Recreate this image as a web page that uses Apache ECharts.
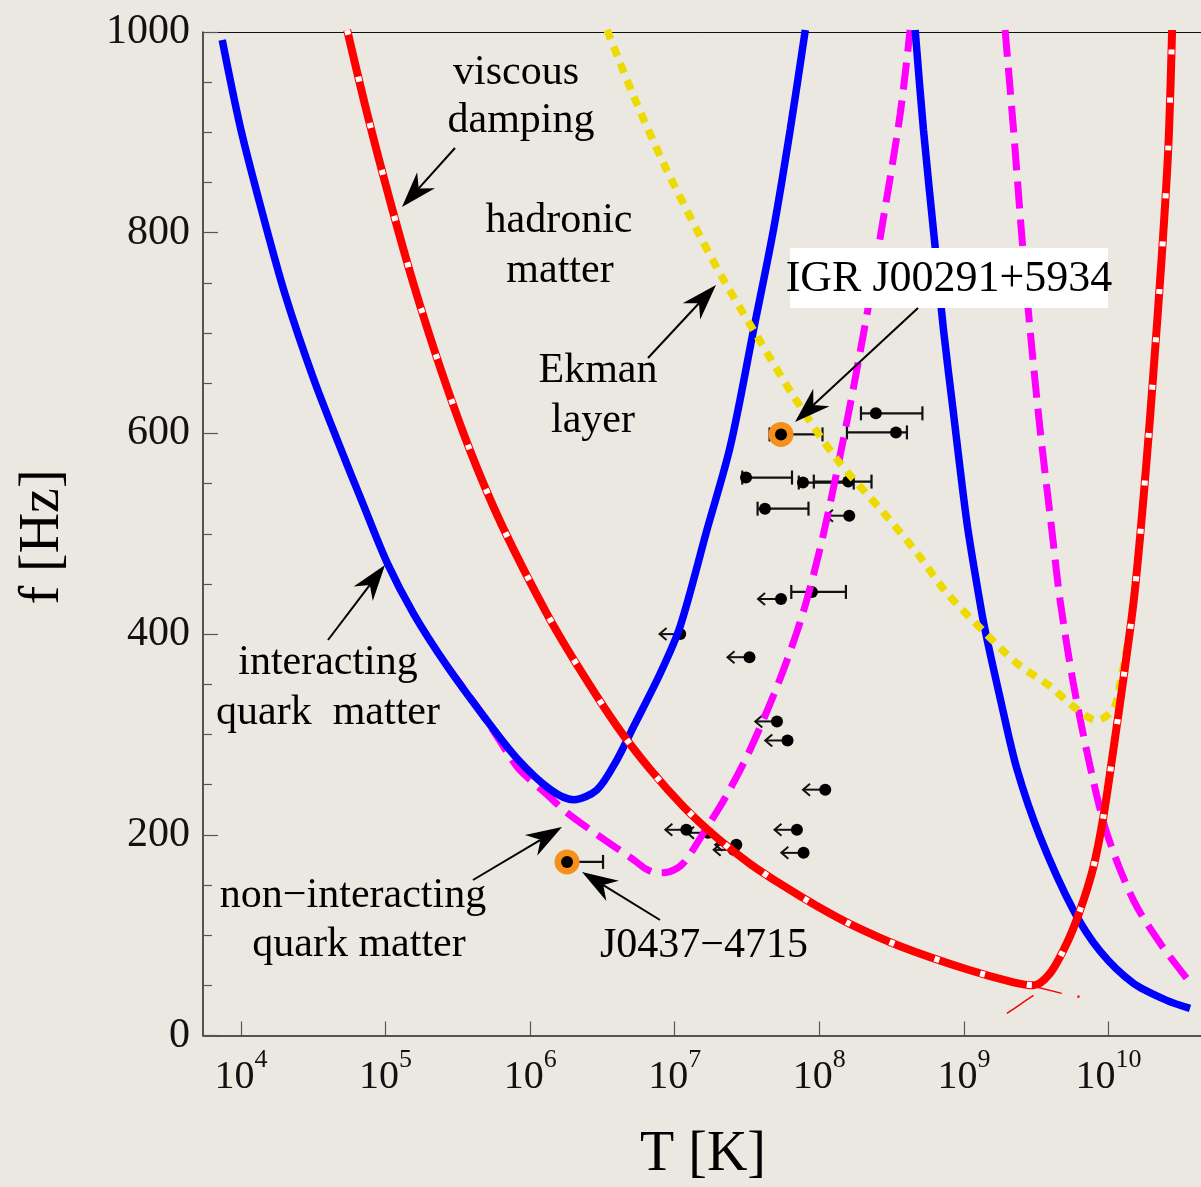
<!DOCTYPE html>
<html>
<head>
<meta charset="utf-8">
<script src="https://cdn.jsdelivr.net/npm/echarts@6/dist/echarts.min.js"></script>
<style>
  html, body { margin: 0; background: #eae8e1; }
  #chart { width: 1201px; height: 1187px; }
</style>
</head>
<body>
<div id="chart"></div>
<script>
// x values are log10(T / K), y values are f in Hz
const decades = [4, 5, 6, 7, 8, 9, 10];
const freqTicks = [0, 200, 400, 600, 800, 1000];

// interacting quark matter (blue, solid)
const interactingLow = [
  [3.870, 992], [3.997, 904], [4.147, 820], [4.308, 737], [4.503, 654], [4.711, 577],
  [4.826, 536], [5.011, 471], [5.195, 420], [5.426, 368], [5.679, 318], [5.909, 276],
  [6.140, 245], [6.301, 235], [6.463, 245], [6.601, 275], [6.716, 308], [6.900, 361],
  [7.038, 408], [7.223, 504], [7.384, 587], [7.545, 703], [7.683, 803], [7.799, 903],
  [7.903, 1002]
];
const interactingHigh = [
  [8.663, 1002], [8.720, 903], [8.801, 786], [8.859, 703], [8.928, 620], [9.020, 512],
  [9.101, 440], [9.145, 405], [9.251, 336], [9.366, 266], [9.527, 198], [9.757, 125],
  [9.942, 84], [10.172, 52], [10.403, 35], [10.564, 27]
];

// non-interacting quark matter (magenta, dashed)
const freeLow = [
  [5.426, 368], [5.679, 318], [5.865, 277], [5.932, 264], [6.117, 240], [6.255, 222],
  [6.485, 198], [6.716, 175], [6.800, 166], [6.877, 162], [6.960, 163], [7.061, 172],
  [7.199, 202], [7.361, 240], [7.522, 285], [7.730, 356], [7.891, 423], [8.029, 500],
  [8.191, 612], [8.329, 718], [8.444, 815], [8.559, 918], [8.628, 1002]
];
const freeHigh = [
  [9.285, 1002], [9.343, 903], [9.401, 796], [9.458, 703], [9.527, 604], [9.608, 504],
  [9.665, 434], [9.757, 351], [9.873, 268], [9.988, 202], [10.172, 135], [10.357, 92],
  [10.541, 57]
];

// hadronic matter, viscous damping (red)
const hadronic = [
  [4.734, 1002], [4.872, 919], [5.034, 830], [5.195, 748], [5.379, 665], [5.587, 582],
  [5.806, 508], [6.117, 420], [6.347, 364], [6.601, 308], [6.831, 265], [7.061, 228],
  [7.292, 197], [7.522, 171], [7.753, 149], [7.983, 129], [8.214, 111], [8.559, 89],
  [9.020, 66], [9.343, 53], [9.481, 50], [9.596, 62], [9.712, 92], [9.804, 125],
  [9.896, 168], [9.965, 218], [10.034, 285], [10.103, 355], [10.172, 430], [10.218, 496],
  [10.265, 575], [10.308, 655], [10.368, 775], [10.414, 885], [10.440, 1002]
];
const hadronicStrayA = [[9.297, 22], [9.390, 31], [9.481, 40]];
const hadronicStrayB = [[9.481, 49], [9.677, 42]];
const hadronicStrayC = [[9.785, 39], [9.800, 38.5]];

// Ekman layer (yellow, dotted)
const ekman = [
  [6.532, 1002], [6.716, 936], [6.923, 869], [7.177, 796], [7.338, 753], [7.569, 697],
  [7.822, 637], [8.122, 574], [8.444, 521], [8.675, 481], [8.882, 441], [9.135, 403],
  [9.366, 371], [9.596, 348], [9.757, 328], [9.919, 314], [10.034, 325], [10.080, 351],
  [10.138, 394]
];

// sources with T range: [logT, f, logT low, logT high]
const sourcesRange = [
  [8.391, 620, 8.288, 8.713],
  [8.530, 601, 8.191, 8.606],
  [7.735, 599, 7.656, 8.022],
  [7.493, 556, 7.467, 7.811],
  [7.887, 551, 7.858, 8.238],
  [8.200, 552, 7.962, 8.361],
  [7.624, 525, 7.573, 7.925],
  [7.949, 442, 7.806, 8.184],
  [6.255, 173, 6.250, 6.504]
];
// sources with upper T limit: [logT, f, arrow tip logT]
const sourcesLimit = [
  [8.207, 518, 8.046],
  [7.735, 435, 7.576],
  [7.038, 400, 6.895],
  [7.517, 377, 7.365],
  [7.707, 313, 7.557],
  [7.780, 294, 7.626],
  [8.041, 245, 7.887],
  [7.845, 205, 7.690],
  [7.891, 182, 7.737],
  [7.080, 205, 6.935],
  [7.230, 202, 7.085],
  [7.426, 190, 7.280],
  [7.407, 185, 7.269]
];
// IGR J00291+5934, J0437-4715
const highlighted = [[7.735, 599], [6.255, 173]];

const serif = '"Liberation Serif", "Times New Roman", serif';
const ink = '#111';

function curve(data, color, width, dash) {
  return {
    type: 'line',
    data: data,
    smooth: 0.3,
    showSymbol: false,
    silent: true,
    lineStyle: { color: color, width: width, type: dash || 'solid' }
  };
}

function rangeItem(params, api) {
  const y = api.value(1);
  const lo = api.coord([api.value(2), y]);
  const hi = api.coord([api.value(3), y]);
  const st = { stroke: ink, lineWidth: 2.2 };
  return {
    type: 'group',
    children: [
      { type: 'line', shape: { x1: lo[0], y1: lo[1], x2: hi[0], y2: hi[1] }, style: st },
      { type: 'line', shape: { x1: lo[0], y1: lo[1] - 7, x2: lo[0], y2: lo[1] + 7 }, style: st },
      { type: 'line', shape: { x1: hi[0], y1: hi[1] - 7, x2: hi[0], y2: hi[1] + 7 }, style: st }
    ]
  };
}

function limitItem(params, api) {
  const y = api.value(1);
  const p = api.coord([api.value(0), y]);
  const t = api.coord([api.value(2), y]);
  const st = { stroke: ink, lineWidth: 2, fill: null };
  return {
    type: 'group',
    children: [
      { type: 'line', shape: { x1: p[0], y1: p[1], x2: t[0], y2: t[1] }, style: st },
      { type: 'polyline', shape: { points: [[t[0] + 7, t[1] - 6], [t[0], t[1]], [t[0] + 7, t[1] + 6]] }, style: st }
    ]
  };
}

// annotation arrow with a notched head
function arrow(x1, y1, x2, y2) {
  const L = Math.hypot(x2 - x1, y2 - y1);
  const ux = (x2 - x1) / L, uy = (y2 - y1) / L;
  const nx = -uy, ny = ux;
  const hl = 36, hw = 12, notch = 25;
  const bx = x2 - ux * hl, by = y2 - uy * hl;
  const mx = x2 - ux * notch, my = y2 - uy * notch;
  return [
    { type: 'line', z: 100, shape: { x1: x1, y1: y1, x2: mx, y2: my }, style: { stroke: '#000', lineWidth: 2 } },
    { type: 'polygon', z: 100, shape: { points: [[x2, y2], [bx + nx * hw, by + ny * hw], [mx, my], [bx - nx * hw, by - ny * hw]] }, style: { fill: '#000' } }
  ];
}

function label(text, x, y, size) {
  return {
    type: 'text', x: x, y: y, z: 100,
    style: { text: text, fontFamily: serif, fontSize: size || 42, fill: '#000', align: 'center', verticalAlign: 'middle' }
  };
}

const xMin = 3.737, xMax = 10.64;

const option = {
  backgroundColor: '#eae8e1',
  animation: false,
  grid: { left: 203, top: 32, right: 0, bottom: 151.5, outerBoundsMode: 'none' },
  xAxis: [{
    type: 'value', min: xMin, max: xMax, position: 'bottom',
    axisLine: { show: true, onZero: false, lineStyle: { color: '#222', width: 1.5 } },
    axisTick: { show: true, inside: true, length: 14, customValues: decades, lineStyle: { color: '#555', width: 1.2 } },
    axisLabel: {
      customValues: decades, margin: 12,
      formatter: v => '{b|10}{s|' + Math.round(v) + '}',
      rich: {
        b: { fontFamily: serif, fontSize: 40, color: ink, verticalAlign: 'bottom' },
        s: { fontFamily: serif, fontSize: 26, color: ink, verticalAlign: 'bottom', padding: [0, 0, 24, 0] }
      }
    },
    splitLine: { show: false }
  }, {
    type: 'value', min: xMin, max: xMax, position: 'top',
    axisLine: { show: true, onZero: false, lineStyle: { color: '#111', width: 1 } },
    axisTick: { show: false }, axisLabel: { show: false }, splitLine: { show: false }
  }],
  yAxis: {
    type: 'value', min: 0, max: 1000, interval: 200,
    axisLine: { show: true, lineStyle: { color: '#222', width: 1.5 } },
    axisTick: { show: true, inside: true, length: 15, lineStyle: { color: '#555', width: 1.2 } },
    minorTick: { show: true, splitNumber: 4, length: 9, lineStyle: { color: '#555', width: 1.2 } },
    axisLabel: {
      customValues: freqTicks, margin: 13,
      formatter: v => String(v),
      fontFamily: serif, fontSize: 42, color: ink
    },
    splitLine: { show: false }
  },
  series: [
    curve(freeLow, '#ff00ff', 7, [27, 11]),
    curve(freeHigh, '#ff00ff', 7, [27, 11]),
    curve(interactingLow, '#0000ff', 7.5),
    curve(interactingHigh, '#0000ff', 7.5),
    curve(ekman, '#ecda00', 7.5, [10, 8]),
    curve(hadronic, '#ff0000', 8),
    curve(hadronic, '#ffffff', 6, [5, 43]),
    curve(hadronicStrayA, '#ff0000', 1.5),
    curve(hadronicStrayB, '#ff0000', 1.5),
    curve(hadronicStrayC, '#ff0000', 2.5),
    {
      type: 'scatter', data: highlighted, symbolSize: 25, silent: true,
      itemStyle: { color: '#f7901a', opacity: 1 }
    },
    { type: 'custom', data: sourcesRange, renderItem: rangeItem, silent: true },
    { type: 'custom', data: sourcesLimit, renderItem: limitItem, silent: true },
    {
      type: 'scatter', symbolSize: 12, silent: true,
      data: sourcesRange.map(d => [d[0], d[1]]).concat(sourcesLimit.map(d => [d[0], d[1]])),
      itemStyle: { color: '#000', opacity: 1 }
    }
  ],
  graphic: [
    { type: 'text', x: 43, y: 537, z: 100, rotation: Math.PI / 2,
      style: { text: 'f [Hz]', fontFamily: serif, fontSize: 56, fill: '#000', align: 'center', verticalAlign: 'middle' } },
    label('T [K]', 703, 1155, 56),
    label('viscous', 516, 73),
    label('damping', 521, 121),
    label('hadronic', 559, 221),
    label('matter', 560, 271),
    label('Ekman', 598, 371),
    label('layer', 593, 421),
    label('interacting', 328, 663),
    label('quark  matter', 328, 713),
    label('non\u2212interacting', 353, 896),
    label('quark matter', 359, 945),
    label('J0437\u22124715', 704, 946),
    { type: 'rect', z: 99, shape: { x: 790, y: 248, width: 318, height: 60 }, style: { fill: '#ffffff' } },
    label('IGR J00291+5934', 949, 279, 44)
  ].concat(
    arrow(455, 148, 402, 207),
    arrow(648, 358, 716, 285),
    arrow(918, 308, 795, 422),
    arrow(328, 640, 385, 565),
    arrow(473, 880, 562, 827),
    arrow(660, 920, 582, 872)
  )
};

const chart = echarts.init(document.getElementById('chart'));
chart.setOption(option);
</script>
</body>
</html>
